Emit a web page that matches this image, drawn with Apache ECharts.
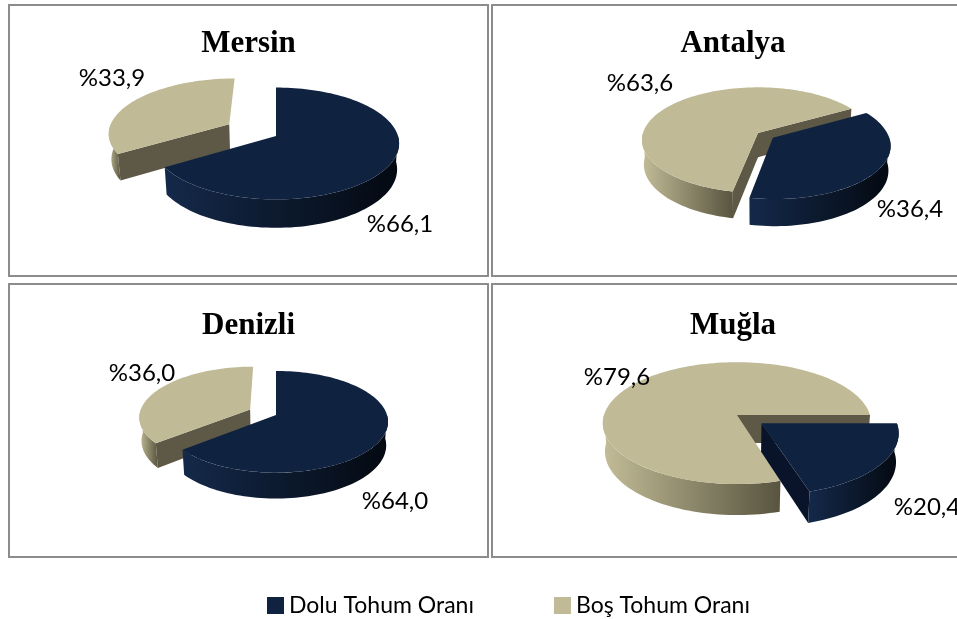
<!DOCTYPE html>
<html>
<head>
<meta charset="utf-8">
<script src="https://cdn.jsdelivr.net/npm/echarts@6/dist/echarts.min.js"></script>
<style>
  html, body { margin: 0; padding: 0; background: #fff; }
  #chart { width: 957px; height: 619px; }
</style>
</head>
<body>
<div id="chart"></div>
<script>
// Dados
const cities = ['Mersin', 'Antalya', 'Denizli', 'Muğla']
const seriesNames = ['Dolu Tohum Oranı', 'Boş Tohum Oranı']
const doluValues = [66.1, 36.4, 64.0, 20.4]
const bosValues = [33.9, 63.6, 36.0, 79.6]

// Layout de cada painel (posições, tamanhos)
const panels = [
  { box: [9, 5, 479, 271], center: [276, 136], radius: 122, startAngle: 0, explode: [0, 55], labelOffsets: [[124, 88], [-164, -58]] },
  { box: [492, 5, 482, 271], center: [758, 133], radius: 115, startAngle: 60, explode: [18, 0], labelOffsets: [[152, 76], [-118, -50]] },
  { box: [9, 284, 479, 273], center: [276, 415], radius: 111, startAngle: 0, explode: [0, 29], labelOffsets: [[119, 86], [-134, -42]] },
  { box: [492, 284, 482, 273], center: [737, 415], radius: 133, startAngle: 90, explode: [30, 0], labelOffsets: [[190, 92], [-120, -38]] }
]

const palette = [
  { top: '#0f2341', cut: '#09142a', wallLight: '#14294a', wallDark: '#040911' },
  { top: '#c0bb96', cut: '#5d5946', wallLight: '#c2bc97', wallDark: '#58543f' }
]

const TILT = 0.45
const COS_TILT = Math.sqrt(1 - TILT * TILT)
const DEPTH = 0.24
const LABEL_FONT = "'Liberation Sans Narrow', 'Arial Narrow', Lato, sans-serif"
const TITLE_FONT = "'Liberation Serif', 'Times New Roman', serif"
const RAD = Math.PI / 180

// projeção 3D simples com perspectiva
function makeProjector(p) {
  const D = p.radius * 6.7
  return (deg, r, Y, off) => {
    const t = deg * RAD
    const X = r * Math.sin(t) + off[0]
    const Z = -r * Math.cos(t) + off[1]
    const u = Y * COS_TILT - Z * TILT
    const w = Z * COS_TILT + Y * TILT
    const k = D / (D - w)
    return [p.center[0] + X * k, p.center[1] - u * k]
  }
}

function arc(proj, a, b, r, Y, off) {
  const n = Math.max(2, Math.ceil(Math.abs(b - a) / 2))
  const pts = []
  for (let j = 0; j <= n; j++) pts.push(proj(a + (b - a) * j / n, r, Y, off))
  return pts
}

const fmt = v => '%' + v.toFixed(1).replace('.', ',')

function renderSlice(kind, params, api) {
  const i = api.value(0)
  const value = api.value(1)
  const p = panels[i]
  const proj = makeProjector(p)
  const total = doluValues[i] + bosValues[i]
  const a0 = p.startAngle + (kind === 0 ? 0 : doluValues[i] / total * 360)
  const a1 = a0 + value / total * 360
  const mid = (a0 + a1) / 2 * RAD
  const e = p.explode[kind]
  const off = [e * Math.sin(mid), -e * Math.cos(mid)]
  const R = p.radius
  const h = R * DEPTH
  const col = palette[kind]
  const children = []
  const cTop = proj(0, 0, 0, off)
  const cBot = proj(0, 0, -h, off)

  // faces radiais (cortes)
  const cuts = [[a0, Math.sin(a0 * RAD) < -1e-6], [a1, Math.sin(a1 * RAD) > 1e-6]]
  cuts.forEach(([a, visible]) => {
    if (!visible) return
    children.push({
      type: 'polygon',
      shape: { points: [cTop, proj(a, R, 0, off), proj(a, R, -h, off), cBot] },
      style: { fill: col.cut }
    })
  })

  // parede externa (parte da frente)
  for (const base of [90, 450]) {
    const lo = Math.max(a0, base)
    const hi = Math.min(a1, base + 180)
    if (hi - lo > 0.01) {
      const pts = arc(proj, lo, hi, R, 0, off).concat(arc(proj, hi, lo, R, -h, off))
      children.push({
        type: 'polygon',
        shape: { points: pts },
        style: {
          fill: new echarts.graphic.LinearGradient(0, 0, 1, 0, [
            { offset: 0, color: col.wallLight },
            { offset: 1, color: col.wallDark }
          ])
        }
      })
    }
  }

  // topo
  children.push({
    type: 'polygon',
    shape: { points: [cTop].concat(arc(proj, a0, a1, R, 0, off)) },
    style: { fill: col.top }
  })

  // rótulo
  const lo = p.labelOffsets[kind]
  children.push({
    type: 'text',
    x: p.center[0] + lo[0],
    y: p.center[1] + lo[1],
    style: {
      text: fmt(value),
      align: 'center',
      verticalAlign: 'middle',
      fontSize: 24,
      fontFamily: LABEL_FONT,
      fill: '#000'
    }
  })

  return { type: 'group', children }
}

const chart = echarts.init(document.getElementById('chart'))

chart.setOption({
  animation: false,
  backgroundColor: '#fff',
  title: cities.map((name, i) => ({
    text: name,
    left: panels[i].box[0] + panels[i].box[2] / 2,
    top: i < 2 ? 28.5 : 310,
    textAlign: 'center',
    padding: 0,
    textStyle: { fontFamily: TITLE_FONT, fontWeight: 'bold', fontSize: 31, color: '#000' }
  })),
  legend: {
    data: seriesNames,
    left: 267,
    top: 594,
    padding: 0,
    icon: 'rect',
    itemWidth: 17,
    itemHeight: 17,
    itemGap: 80,
    textStyle: { fontFamily: LABEL_FONT, fontSize: 23, color: '#000' }
  },
  graphic: panels.map(p => ({
    type: 'rect',
    z: 0,
    shape: { x: p.box[0], y: p.box[1], width: p.box[2], height: p.box[3] },
    style: { fill: 'none', stroke: '#8c8c8c', lineWidth: 2 }
  })),
  series: seriesNames.map((name, kind) => ({
    type: 'custom',
    name,
    coordinateSystem: 'none',
    z: kind === 0 ? 3 : 2,
    itemStyle: { color: palette[kind].top },
    data: cities.map((c, i) => [i, kind === 0 ? doluValues[i] : bosValues[i]]),
    renderItem: (params, api) => renderSlice(kind, params, api)
  }))
})

window.addEventListener('resize', () => chart.resize())
</script>
</body>
</html>
